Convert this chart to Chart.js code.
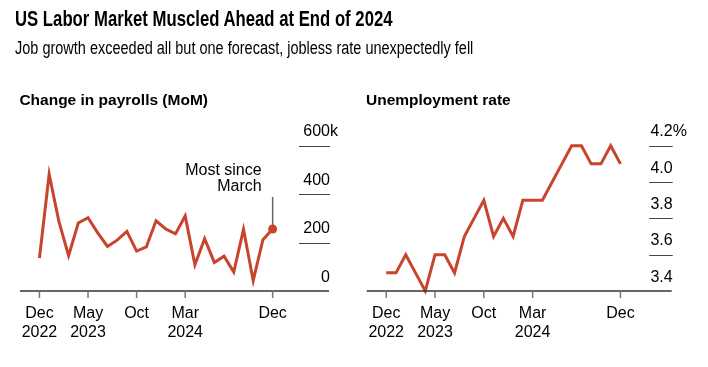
<!DOCTYPE html>
<html>
<head>
<meta charset="utf-8">
<script src="https://cdn.jsdelivr.net/npm/chart.js@4.4.1/dist/chart.umd.min.js"></script>
<style>
    body {
        margin: 0;
        width: 708px;
        height: 367px;
        position: relative;
        overflow: hidden;
        background: #fff;
        font-family: "Liberation Sans", Arial, sans-serif;
        color: #000;
    }
    .txt {
        position: absolute;
        white-space: nowrap;
        z-index: 2;
    }
    #title {
        left: 14.5px;
        top: 8px;
        font-size: 22px;
        line-height: 22px;
        font-weight: bold;
        transform: scaleX(0.76);
        transform-origin: left top;
    }
    #subtitle {
        left: 15px;
        top: 39.3px;
        font-size: 18px;
        line-height: 18px;
        transform: scaleX(0.805);
        transform-origin: left top;
    }
    .panel {
        top: 92px;
        font-size: 15.5px;
        line-height: 15.5px;
        font-weight: bold;
    }
    canvas {
        position: absolute;
        top: 0;
    }
</style>
</head>
<body>
<div class="txt" id="title">US Labor Market Muscled Ahead at End of 2024</div>
<div class="txt" id="subtitle">Job growth exceeded all but one forecast, jobless rate unexpectedly fell</div>
<div class="txt panel" style="left:19.4px">Change in payrolls (MoM)</div>
<div class="txt panel" style="left:366px">Unemployment rate</div>
<canvas id="payrollChart" width="354" height="367" style="left:0"></canvas>
<canvas id="rateChart" width="354" height="367" style="left:354px"></canvas>

<script>
// months Dec 2022 .. Dec 2024
const months = [
    "2022-12", "2023-01", "2023-02", "2023-03", "2023-04", "2023-05",
    "2023-06", "2023-07", "2023-08", "2023-09", "2023-10", "2023-11",
    "2023-12", "2024-01", "2024-02", "2024-03", "2024-04", "2024-05",
    "2024-06", "2024-07", "2024-08", "2024-09", "2024-10", "2024-11",
    "2024-12",
];

// change in nonfarm payrolls, thousands
const payrolls = [
    136, 482, 287, 146, 281, 303, 240, 184, 210, 246, 165, 182,
    290, 256, 236, 310, 108, 216, 118, 144, 78, 255, 43, 212, 256,
];

// unemployment rate, %
const unemployment = [
    3.5, 3.5, 3.6, 3.5, 3.4, 3.6, 3.6, 3.5, 3.7, 3.8, 3.9, 3.7,
    3.8, 3.7, 3.9, 3.9, 3.9, 4.0, 4.1, 4.2, 4.2, 4.1, 4.1, 4.2, 4.1,
];

// x tick positions (index into months) and labels
const xTickIdx = [0, 5, 10, 15, 24];
const xTickLabels = [
    ["Dec", "2022"],
    ["May", "2023"],
    ["Oct", ""],
    ["Mar", "2024"],
    ["Dec", ""],
];

const payrollTicks = [0, 200, 400, 600];
const payrollTickLabels = ["0", "200", "400", "600"];
const rateTicks = [3.4, 3.6, 3.8, 4.0, 4.2];
const rateTickLabels = ["3.4", "3.6", "3.8", "4.0", "4.2"];

const lineColor = "rgb(200,68,44)";
const labelFont = '16px "Liberation Sans", Arial, sans-serif';

// draws short gridlines at the right, tick labels above them, and the x axis
function axisPlugin(ticks, labels, suffix, gridWidth) {
    return {
        id: "axisPlugin",
        beforeDatasetsDraw: (chart) => {
            const ctx = chart.ctx;
            const area = chart.chartArea;
            const y = chart.scales.y;
            ctx.save();
            ctx.strokeStyle = "#444";
            ctx.lineWidth = 1;
            ticks.forEach((t, i) => {
                if (i === 0) return;
                const py = Math.round(y.getPixelForValue(t)) + 0.5;
                ctx.beginPath();
                ctx.moveTo(area.right + 1 - gridWidth, py);
                ctx.lineTo(area.right + 1, py);
                ctx.stroke();
            });
            ctx.restore();
        },
        afterDatasetsDraw: (chart) => {
            const ctx = chart.ctx;
            const area = chart.chartArea;
            const x = chart.scales.x;
            const y = chart.scales.y;
            ctx.save();
            ctx.font = labelFont;
            ctx.fillStyle = "#000";
            ctx.textBaseline = "alphabetic";

            // y labels, unit hangs past the numbers on the top one
            ticks.forEach((t, i) => {
                const py = y.getPixelForValue(t) - 9.5;
                ctx.textAlign = "right";
                ctx.fillText(labels[i], area.right + 1, py);
                if (i === ticks.length - 1) {
                    ctx.textAlign = "left";
                    ctx.fillText(suffix, area.right + 1, py);
                }
            });

            // x axis line
            ctx.strokeStyle = "#333";
            ctx.lineWidth = 1.5;
            ctx.beginPath();
            ctx.moveTo(area.left, area.bottom);
            ctx.lineTo(area.right, area.bottom);
            ctx.stroke();

            // x ticks + labels
            ctx.strokeStyle = "#777";
            ctx.textAlign = "center";
            xTickIdx.forEach((idx, i) => {
                const px = x.getPixelForValue(idx);
                ctx.beginPath();
                ctx.moveTo(px, area.bottom);
                ctx.lineTo(px, area.bottom + 7);
                ctx.stroke();
                ctx.fillText(xTickLabels[i][0], px, area.bottom + 27.3);
                ctx.fillText(xTickLabels[i][1], px, area.bottom + 45.7);
            });
            ctx.restore();
        },
    };
}

// callout for the last payroll point
const calloutPlugin = {
    id: "calloutPlugin",
    beforeDatasetsDraw: (chart) => {
        const ctx = chart.ctx;
        const last = payrolls.length - 1;
        const px = chart.scales.x.getPixelForValue(last);
        const py = chart.scales.y.getPixelForValue(payrolls[last]);
        ctx.save();
        ctx.strokeStyle = "#666";
        ctx.lineWidth = 1.5;
        ctx.beginPath();
        ctx.moveTo(px, py - 32);
        ctx.lineTo(px, py);
        ctx.stroke();
        ctx.font = labelFont;
        ctx.fillStyle = "#000";
        ctx.textAlign = "right";
        ctx.fillText("Most since", px - 11, py - 54);
        ctx.fillText("March", px - 11, py - 38.3);
        ctx.restore();
    },
};

function lineDataset(values, markLast) {
    return {
        data: values.map((v, i) => ({ x: i, y: v })),
        borderColor: lineColor,
        backgroundColor: lineColor,
        borderWidth: 3,
        tension: 0,
        clip: false,
        pointRadius: (c) =>
            markLast && c.dataIndex === values.length - 1 ? 4.5 : 0,
        pointBorderWidth: 0,
    };
}

//payrolls change chart
const payrollChart = new Chart(document.getElementById("payrollChart"), {
    type: "line",
    data: {
        labels: months,
        datasets: [lineDataset(payrolls, true)],
    },
    options: {
        responsive: false,
        animation: false,
        layout: {
            padding: { left: 20, right: 25, top: 145.7, bottom: 76 },
        },
        plugins: {
            legend: { display: false },
            tooltip: { enabled: false },
        },
        scales: {
            x: { type: "linear", min: -2, max: 29.8, display: false },
            y: { min: 0, max: 600, display: false },
        },
    },
    plugins: [axisPlugin(payrollTicks, payrollTickLabels, "k", 31), calloutPlugin],
});

//unemployment rate chart
const rateChart = new Chart(document.getElementById("rateChart"), {
    type: "line",
    data: {
        labels: months,
        datasets: [lineDataset(unemployment, false)],
    },
    options: {
        responsive: false,
        animation: false,
        layout: {
            padding: { left: 12.7, right: 36.3, top: 145.7, bottom: 76 },
        },
        plugins: {
            legend: { display: false },
            tooltip: { enabled: false },
        },
        scales: {
            x: { type: "linear", min: -2, max: 29.25, display: false },
            y: { min: 3.4, max: 4.2, display: false },
        },
    },
    plugins: [axisPlugin(rateTicks, rateTickLabels, "%", 23.5)],
});
</script>
</body>
</html>
